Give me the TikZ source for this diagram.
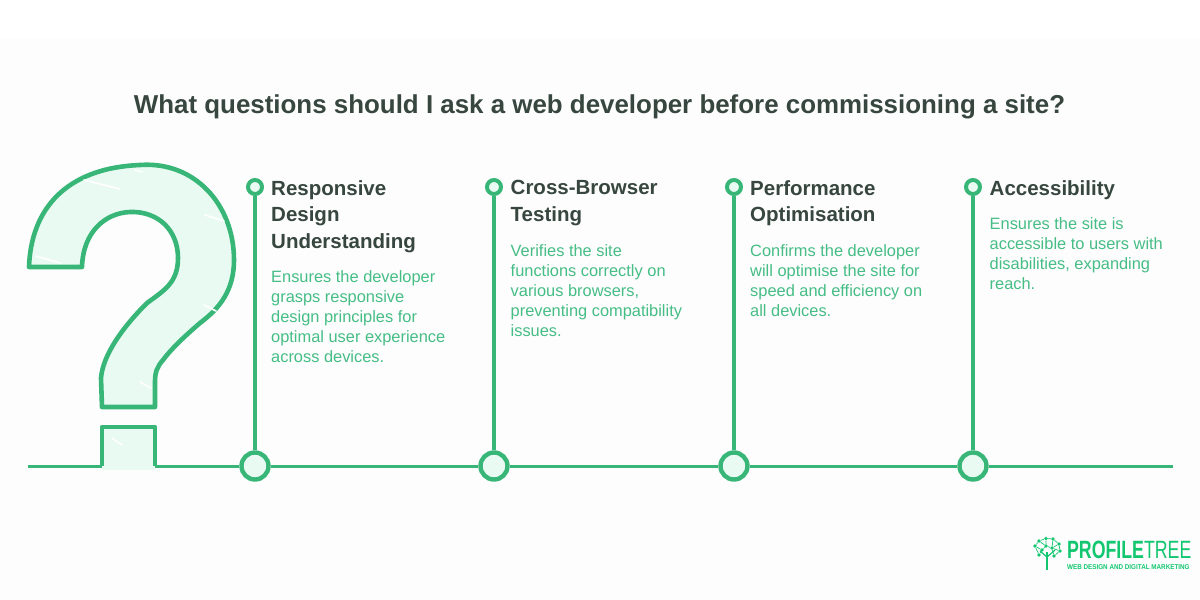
\documentclass[tikz,border=0pt]{standalone}
\usepackage{fontspec}
\setmainfont{Liberation Sans}
\definecolor{gr}{HTML}{37B678}
\definecolor{txtg}{HTML}{45BD85}
\definecolor{lightg}{HTML}{E9FAF3}
\definecolor{dark}{HTML}{37463F}
\definecolor{logog}{HTML}{12C76F}
\tikzset{
  x=1pt,y=-1pt,
  topdot/.style={circle,draw=gr,line width=4pt,fill=lightg,minimum size=14pt,inner sep=0pt},
  botdot/.style={circle,draw=gr,line width=4.4pt,fill=lightg,minimum size=27pt,inner sep=0pt},
  stem/.style={draw=gr,line width=4pt},
  base/.style={draw=gr,line width=3pt},
  outline/.style={draw=gr,line width=4.6pt,line join=round},
  head/.style={anchor=north west,align=left,inner sep=0pt,text=dark,font=\fontsize{20.5}{26.7}\selectfont\bfseries},
  desc/.style={anchor=north west,align=left,inner sep=0pt,text=txtg,font=\fontsize{16.4}{20}\selectfont},
  streak/.style={draw=white,line width=1.6pt,line cap=round},
  twig/.style={draw=logog,line width=.7pt},
  leaf/.style={circle,fill=logog,inner sep=0pt,minimum size=3.6pt},
}
\begin{document}
\begin{tikzpicture}
\useasboundingbox[fill=white!99.4!black] (0,0) rectangle (1200,600);
\fill[white] (0,0) rectangle (1200,38);

\node[anchor=center,inner sep=0pt,text=dark,font=\fontsize{25.9}{30}\selectfont\bfseries] (title) at (599.5,107) {What questions should I ask a web developer before commissioning a site?};

% question mark
\path[fill=lightg,outline]
  (29,267) .. controls (31,210) and (65,168) .. (140,165)
  .. controls (195,161) and (234,205) .. (234,260)
  .. controls (234,290) and (220,308) .. (200,323)
  .. controls (185,336) and (172,348) .. (163,360)
  .. controls (157,367) and (155,372) .. (155,382)
  -- (155,407) -- (102,407) -- (101,378)
  .. controls (103,355) and (122,328) .. (147,303)
  .. controls (165,290) and (178,282) .. (178,258)
  .. controls (178,230) and (158,211) .. (130,212)
  .. controls (105,213) and (83,232) .. (82,267) -- cycle;
\fill[lightg] (102,427) rectangle (155,470);
\draw[streak] (84,180) -- (120,189);
\draw[streak] (205,215) -- (224,221);
\draw[streak] (36,256) -- (60,263);
\draw[streak] (204,305) -- (216,311);
\draw[streak] (140,382) -- (151,388);
\draw[streak] (112,438) -- (122,445);
\draw[streak] (135,170) -- (142,172);

% nodes
\node[topdot] (t1) at (255,187) {};
\node[topdot] (t2) at (494,187) {};
\node[topdot] (t3) at (734,187) {};
\node[topdot] (t4) at (973,187) {};
\coordinate (lstart) at (28,466);
\coordinate (lend) at (1173,466);
\coordinate (dl) at (102,466);
\coordinate (dr) at (155,466);
\node[botdot] (b1) at (255,466) {};
\node[botdot] (b2) at (494,466) {};
\node[botdot] (b3) at (734,466) {};
\node[botdot] (b4) at (973,466) {};

\draw[stem] (t1) -- (b1);
\draw[stem] (t2) -- (b2);
\draw[stem] (t3) -- (b3);
\draw[stem] (t4) -- (b4);

\draw[base] (lstart) -- (dl);
\draw[outline] (dl) -- (102,427) -- (155,427) -- (dr);
\draw[base] (dr) -- (b1);
\draw[base] (b1) -- (b2);
\draw[base] (b2) -- (b3);
\draw[base] (b3) -- (b4);
\draw[base] (b4) -- (lend);

% texts
\node[head] (h1) at (271,180) {Responsive\\Design\\Understanding};
\node[desc] (d1) at (271,270.5) {Ensures the developer\\grasps responsive\\design principles for\\optimal user experience\\across devices.};
\node[head] (h2) at (510.5,180) {Cross-Browser\\Testing};
\node[desc] (d2) at (510.5,244) {Verifies the site\\functions correctly on\\various browsers,\\preventing compatibility\\issues.};
\node[head] (h3) at (750,180) {Performance\\Optimisation};
\node[desc] (d3) at (750,244) {Confirms the developer\\will optimise the site for\\speed and efficiency on\\all devices.};
\node[head] (h4) at (989.5,180) {Accessibility};
\node[desc] (d4) at (989.5,217.5) {Ensures the site is\\accessible to users with\\disabilities, expanding\\reach.};

% logo
\draw[logog,line width=2.2pt] (1047,570) -- (1047,552);
\draw[logog,line width=1.2pt] (1047,557) -- (1040,551) (1047,557) -- (1055,550);
\foreach \n/\x/\y in {a/1035/546,b/1039/541,c/1046/538.5,d/1053/539,e/1059/544,f/1060/551,g/1054/556,h/1039/555,i/1046/546,j/1052/548,k/1042/550}{
  \node[leaf] (lf\n) at (\x,\y) {};
}
\draw[twig] (lfa)--(lfb)--(lfc)--(lfd)--(lfe)--(lff)--(lfg)--(lfj)--(lfi)--(lfk)--(lfh)--(lfa);
\draw[twig] (lfi)--(lfc) (lfi)--(lfb) (lfj)--(lfd) (lfj)--(lfe) (lfk)--(lfa) (lfj)--(lff);
\node[anchor=base west,inner sep=0pt,text=logog,xscale=.71,font=\fontsize{25}{28}\selectfont\bfseries] (brand) at (1067,558.5) {PROFILE\mdseries TREE};
\node[anchor=base west,inner sep=0pt,text=logog,xscale=.9,font=\fontsize{7}{8}\selectfont\bfseries] (tag) at (1067,569.5) {WEB DESIGN AND DIGITAL MARKETING};
\end{tikzpicture}
\end{document}
